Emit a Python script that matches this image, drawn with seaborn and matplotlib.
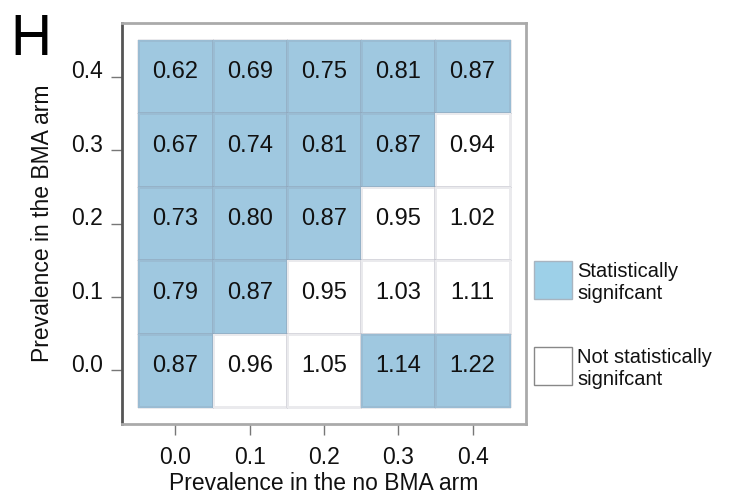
import numpy as np
import pandas as pd
import matplotlib
matplotlib.use("Agg")
import matplotlib.pyplot as plt
from matplotlib.colors import ListedColormap
from matplotlib.patches import Rectangle
from matplotlib.transforms import ScaledTranslation
import seaborn as sns

# Prevalence levels in each arm
no_bma_levels = ["0.0", "0.1", "0.2", "0.3", "0.4"]
bma_levels = ["0.4", "0.3", "0.2", "0.1", "0.0"]  # top row first

# Ratio estimates (rows: BMA arm prevalence, top to bottom)
ratio_04 = [0.62, 0.69, 0.75, 0.81, 0.87]
ratio_03 = [0.67, 0.74, 0.81, 0.87, 0.94]
ratio_02 = [0.73, 0.80, 0.87, 0.95, 1.02]
ratio_01 = [0.79, 0.87, 0.95, 1.03, 1.11]
ratio_00 = [0.87, 0.96, 1.05, 1.14, 1.22]

# Statistical significance flags (1 = significant)
sig_04 = [1, 1, 1, 1, 1]
sig_03 = [1, 1, 1, 1, 0]
sig_02 = [1, 1, 1, 0, 0]
sig_01 = [1, 1, 0, 0, 0]
sig_00 = [1, 0, 0, 1, 1]

legend_labels = ["Statistically\nsignifcant", "Not statistically\nsignifcant"]

ratios = pd.DataFrame([ratio_04, ratio_03, ratio_02, ratio_01, ratio_00],
                      index=bma_levels, columns=no_bma_levels)
signif = pd.DataFrame([sig_04, sig_03, sig_02, sig_01, sig_00],
                      index=bma_levels, columns=no_bma_levels)

sns.set_theme(style="white")
plt.rcParams["font.family"] = ["Liberation Sans", "DejaVu Sans"]

blue = "#9fc8e0"
W, H = 729, 499
fig = plt.figure(figsize=(W / 100, H / 100), dpi=100)
ax = fig.add_axes([122 / W, 1 - 424 / H, 404 / W, 401 / H])

sns.heatmap(signif, ax=ax, cmap=ListedColormap(["white", blue]), vmin=0, vmax=1,
            annot=ratios.values, fmt=".2f", cbar=False,
            linewidths=1.0, linecolor=(0.5, 0.5, 0.58, 0.16),
            annot_kws={"fontsize": 17, "color": "#111111"})

# cell values sit slightly above the cell centres
lift = ScaledTranslation(0, 3 / 72, fig.dpi_scale_trans)
for t in ax.texts:
    t.set_transform(t.get_transform() + lift)

ax.set_xlim(-0.22, 5.22)
ax.set_ylim(5.23, -0.23)

for name, sp in ax.spines.items():
    sp.set_visible(True)
    sp.set_linewidth(2.0)
    sp.set_color("#555555" if name == "left" else "#aaaaaa")

ax.tick_params(axis="both", which="both", length=8, width=1, color="#777777",
               labelsize=16.5, labelcolor="#111111", left=True, bottom=True)
ax.tick_params(axis="x", pad=8)
ax.tick_params(axis="y", pad=6)
ax.set_xticklabels(no_bma_levels, rotation=0)
ax.set_yticklabels(bma_levels, rotation=0)
# y labels sit a little above their tick marks
for lab in ax.get_yticklabels():
    lab.set_transform(lab.get_transform() + ScaledTranslation(0, 3.5 / 72, fig.dpi_scale_trans))

ax.set_xlabel("Prevalence in the no BMA arm", fontsize=16.5, color="#111111", labelpad=2)
ax.set_ylabel("Prevalence in the BMA arm", fontsize=16.5, color="#111111", labelpad=12)

# Legend: colour swatches with two-line labels
swatches = [("#9dd0e8", "#a8b4c0"), ("white", "#888888")]
sw_tops = [261, 347]
for (face, edge), top, label in zip(swatches, sw_tops, legend_labels):
    fig.patches.append(Rectangle((534 / W, 1 - (top + 38) / H), 38 / W, 38 / H,
                                 transform=fig.transFigure, facecolor=face,
                                 edgecolor=edge, linewidth=1))
    fig.text(577 / W, 1 - (top + 1) / H, label, fontsize=14.5, color="#111111",
             va="top", ha="left", linespacing=1.2)

fig.text(10 / W, 1 - 55 / H, "H", fontsize=41, color="black")

fig.savefig("out.png", dpi=100)
